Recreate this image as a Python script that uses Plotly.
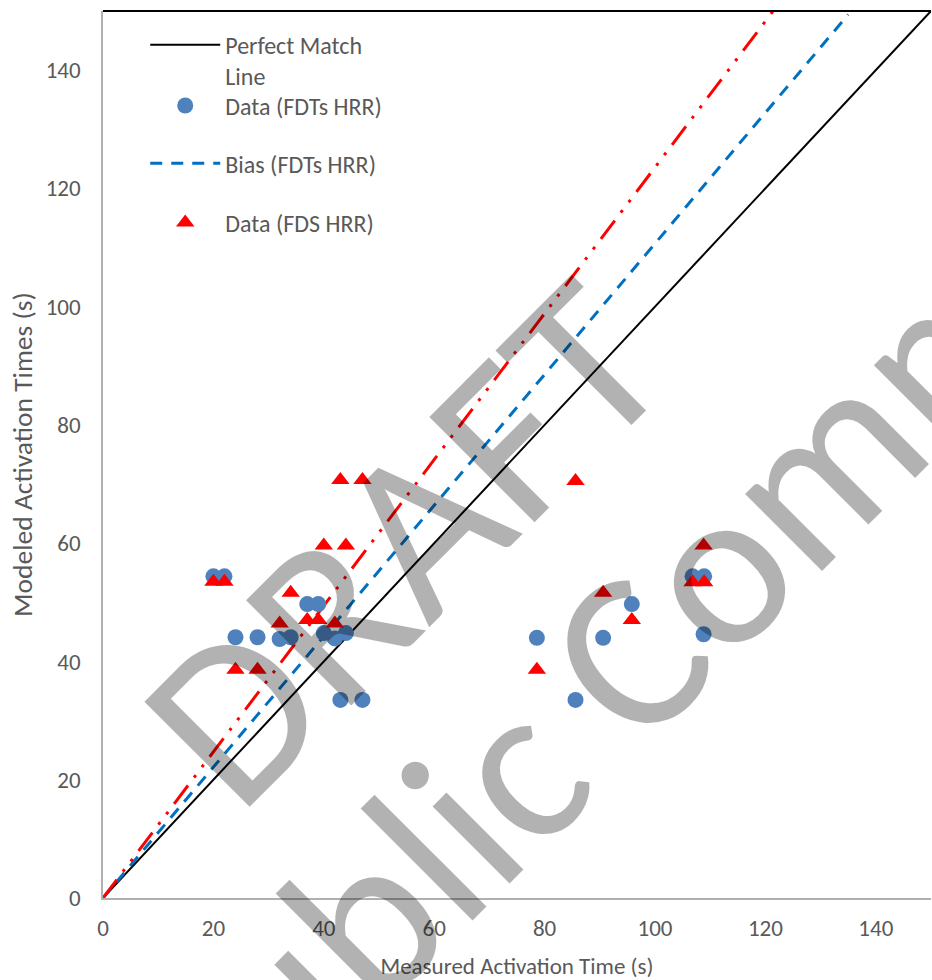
import plotly.graph_objects as go

# ---- data ----
measured = [20, 22, 24, 28, 32, 34, 37, 39, 40, 42, 44, 43, 47,
            78.6, 90.6, 85.6, 95.8, 106.8, 108.9, 108.8]
modeled_fdts = [54.4, 54.4, 44.1, 44.1, 43.8, 44.1, 49.7, 49.7, 44.8, 43.9, 44.8, 33.5, 33.5,
                44.0, 44.0, 33.5, 49.7, 54.4, 54.4, 44.6]
modeled_fds = [53.5, 53.5, 38.6, 38.6, 46.4, 51.6, 47.0, 47.0, 59.6, 46.4, 59.6, 70.7, 70.7,
               38.6, 51.6, 70.5, 47.0, 53.4, 53.4, 59.6]

perfect_x = [0, 150]
perfect_y = [0, 150]
bias_fdts_x = [0, 135]
bias_fdts_y = [0, 149.4]
bias_fds_x = [0, 121.4]
bias_fds_y = [0, 150]

tick_vals = [0, 20, 40, 60, 80, 100, 120, 140]

FONT = "Carlito, Lato, 'Open Sans', sans-serif"
TXT = "#595959"

fig = go.Figure()
fig.add_trace(go.Scatter(x=perfect_x, y=perfect_y, mode="lines",
                         name="Perfect Match<br>Line", line=dict(color="black", width=2),
                         legend="legend"))
fig.add_trace(go.Scatter(x=bias_fdts_x, y=bias_fdts_y, mode="lines",
                         name="Bias (FDTs HRR)",
                         line=dict(color="#0070c0", width=3, dash="12px,9px"),
                         legend="legend3"))
fig.add_trace(go.Scatter(x=bias_fds_x, y=bias_fds_y, mode="lines",
                         name="Bias (FDS HRR)", showlegend=False,
                         line=dict(color="#ff0000", width=3,
                                   dash="23px,10px,3px,10px,3px,10px")))
fig.add_trace(go.Scatter(x=measured, y=modeled_fdts, mode="markers",
                         name="Data (FDTs HRR)",
                         marker=dict(symbol="circle", size=16, color="#4f81bd"),
                         legend="legend2"))
fig.add_trace(go.Scatter(x=measured, y=modeled_fds, mode="markers",
                         name="Data (FDS HRR)",
                         marker=dict(symbol="triangle-up", size=16, color="#ff0000"),
                         legend="legend4"))

leg_common = dict(font=dict(family=FONT, size=24, color=TXT), bgcolor="rgba(0,0,0,0)",
                  borderwidth=0, xanchor="left", yanchor="middle", x=0.051,
                  valign="top", itemwidth=70)

fig.update_layout(
    width=932, height=980,
    margin=dict(l=103, r=1, t=11, b=82),
    paper_bgcolor="white", plot_bgcolor="white",
    font=dict(family=FONT, color=TXT),
    legend=dict(**leg_common, y=0.944),
    legend2=dict(**leg_common, y=0.893),
    legend3=dict(**leg_common, y=0.828),
    legend4=dict(**leg_common, y=0.761),
    xaxis=dict(range=[0, 150], tickvals=tick_vals, showgrid=False, zeroline=False,
               showline=True, linecolor="#b0b0b0", linewidth=1.5, automargin=False,
               ticks="", ticklabelstandoff=9,
               tickfont=dict(family=FONT, size=23, color=TXT),
               title=dict(text="Measured Activation Time (s)", standoff=18,
                          font=dict(family=FONT, size=23, color=TXT))),
    yaxis=dict(range=[0, 150], tickvals=tick_vals, showgrid=False, zeroline=False,
               showline=True, linecolor="#b0b0b0", linewidth=1.5, automargin=False,
               ticks="", ticklabelstandoff=16,
               tickfont=dict(family=FONT, size=23, color=TXT),
               title=dict(text="Modeled Activation Times (s)", standoff=5,
                          font=dict(family=FONT, size=27.5, color=TXT))),
    shapes=[dict(type="line", xref="paper", yref="paper", x0=0, x1=1, y0=1, y1=1,
                 line=dict(color="black", width=2))],
    annotations=[
        dict(text="DRAFT", xref="paper", yref="paper", x=0.362, y=0.402,
             xanchor="center", yanchor="middle",
             showarrow=False, textangle=-45,
             font=dict(family=FONT, size=232, color="rgba(0,0,0,0.3)")),
        dict(text="Public Comment", xref="paper", yref="paper", x=0.711, y=0.346,
             xanchor="center", yanchor="middle",
             showarrow=False, textangle=-45,
             font=dict(family=FONT, size=228, color="rgba(0,0,0,0.3)")),
    ],
)

fig.write_html("out.html",
               config={"displayModeBar": False},
               post_script="document.body.style.margin='0';document.body.style.overflow='hidden';")
